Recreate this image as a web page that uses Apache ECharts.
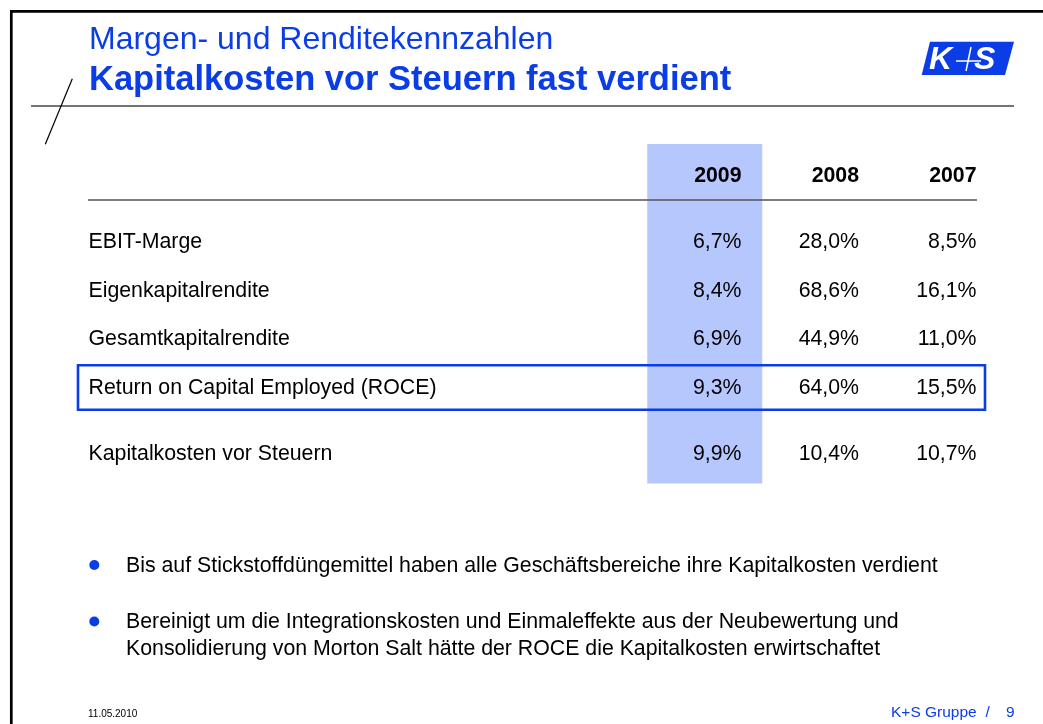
<!DOCTYPE html>
<html>
<head>
<meta charset="utf-8">
<style>html,body{margin:0;padding:0;background:#fff}#main{width:1043px;height:724px}</style>
<script src="https://cdn.jsdelivr.net/npm/echarts@6/dist/echarts.min.js"></script>
</head>
<body>
<div id="main"></div>
<script>
// Kennzahlen (in %)
let years = ['2009', '2008', '2007'];
let highlightYear = '2009';
let ratioNames = ['EBIT-Marge', 'Eigenkapitalrendite', 'Gesamtkapitalrendite', 'Return on Capital Employed (ROCE)'];
let ratio2009 = [6.7, 8.4, 6.9, 9.3];
let ratio2008 = [28.0, 68.6, 44.9, 64.0];
let ratio2007 = [8.5, 16.1, 11.0, 15.5];
let costName = 'Kapitalkosten vor Steuern';
let costValues = [9.9, 10.4, 10.7];
let boxedRow = 'Return on Capital Employed (ROCE)';

let blue = '#0a3de6';
let font = '"Liberation Sans", Arial, sans-serif';
let fs = 21.3;

function pct(v) {
    return v.toFixed(1).replace('.', ',') + '%';
}

let ratioByYear = [ratio2009, ratio2008, ratio2007];
let ratioData = [];
for (let i = 0; i < ratioNames.length; i++) {
    for (let j = 0; j < years.length; j++) {
        ratioData.push([years[j], ratioNames[i], ratioByYear[j][i]]);
    }
}
let costData = years.map(function (y, j) {
    return [y, costName, costValues[j]];
});
let headerData = years.map(function (y) {
    return [y, 'Jahr', 0];
});

let colLeft = 646, colWidth = 352.5;

function xCat(gridIndex) {
    return {type: 'category', gridIndex: gridIndex, data: years, show: false};
}
function rowAxis(gridIndex, names, showLabel) {
    return {
        type: 'category', gridIndex: gridIndex, data: names, inverse: true,
        axisLine: {show: false}, axisTick: {show: false}, splitLine: {show: false},
        axisLabel: {
            show: showLabel, align: 'left', margin: colLeft - 88.5,
            fontSize: fs, color: '#000', fontFamily: font
        }
    };
}
// Tabellenzellen: Text rechtsbündig in der Jahresspalte
function cellSeries(xi, data, bold) {
    return {
        type: 'custom', xAxisIndex: xi, yAxisIndex: xi, data: data, silent: true, z: 5,
        encode: {x: 0, y: 1},
        renderItem: function (params, api) {
            let p = api.coord([api.value(0), api.value(1)]);
            let d = data[params.dataIndex];
            return {
                type: 'text',
                x: p[0] + 36.8, y: p[1],
                style: {
                    text: bold ? d[0] : pct(d[2]),
                    fill: '#000', align: 'right', verticalAlign: 'middle',
                    fontSize: fs, fontWeight: bold ? 'bold' : 'normal', fontFamily: font
                }
            };
        }
    };
}

let chart = echarts.init(document.getElementById('main'));
let option = {
    backgroundColor: '#fff',
    animation: false,
    grid: [
        {left: colLeft, width: colWidth, top: 144, height: 339.5},
        {left: colLeft, width: colWidth, top: 151.5, height: 49},
        {left: colLeft, width: colWidth, top: 218, height: 194},
        {left: colLeft, width: colWidth, top: 430, height: 48}
    ],
    xAxis: [xCat(0), xCat(1), xCat(2), xCat(3)],
    yAxis: [
        {type: 'value', gridIndex: 0, min: 0, max: 1, show: false},
        rowAxis(1, ['Jahr'], false),
        rowAxis(2, ratioNames, true),
        rowAxis(3, [costName], true)
    ],
    series: [
        {
            type: 'bar', xAxisIndex: 0, yAxisIndex: 0, silent: true, z: 1,
            barWidth: 115,
            data: years.map(function (y) { return y === highlightYear ? 1 : '-'; }),
            itemStyle: {color: '#b6c7fe'}
        },
        cellSeries(1, headerData, true),
        cellSeries(2, ratioData, false),
        cellSeries(3, costData, false)
    ]
};
chart.setOption(option);

// Rahmen um die ROCE-Zeile, aus der Achse berechnet
let boxY = chart.convertToPixel({gridIndex: 2}, [years[0], boxedRow])[1];

let bulletLines = [
    ['Bis auf Stickstoffdüngemittel haben alle Geschäftsbereiche ihre Kapitalkosten verdient'],
    ['Bereinigt um die Integrationskosten und Einmaleffekte aus der Neubewertung und',
        'Konsolidierung von Morton Salt hätte der ROCE die Kapitalkosten erwirtschaftet']
];
let bulletY = [566, 622.5];

let g = [
    // Folienrahmen
    {type: 'polyline', shape: {points: [[11.3, 724], [11.3, 11.3], [1043, 11.3]]}, style: {stroke: '#000', lineWidth: 2.7, fill: null}, z: 100},
    // Titel
    {type: 'text', style: {x: 89, y: 40.5, text: 'Margen- und Renditekennzahlen', fill: blue, fontSize: 32, fontFamily: font, verticalAlign: 'middle'}, z: 100},
    {type: 'text', style: {x: 89, y: 80, text: 'Kapitalkosten vor Steuern fast verdient', fill: blue, fontSize: 34.5, fontWeight: 'bold', fontFamily: font, verticalAlign: 'middle'}, z: 100},
    {type: 'line', shape: {x1: 31, y1: 106, x2: 1014, y2: 106}, style: {stroke: '#444', lineWidth: 1.5}, z: 100},
    {type: 'line', shape: {x1: 72.3, y1: 78.7, x2: 45.3, y2: 144.3}, style: {stroke: '#000', lineWidth: 1.2}, z: 100},
    // Logo
    {type: 'polygon', shape: {points: [[930, 41.7], [1014, 41.7], [1005, 75], [921.7, 75]]}, style: {fill: blue}, z: 100},
    {type: 'text', style: {x: 929, y: 60, text: 'K', fill: '#fff', fontSize: 32, fontWeight: 'bold', fontStyle: 'italic', fontFamily: font, verticalAlign: 'middle'}, z: 101},
    {type: 'text', style: {x: 974, y: 60, text: 'S', fill: '#fff', fontSize: 32, fontWeight: 'bold', fontStyle: 'italic', fontFamily: font, verticalAlign: 'middle'}, z: 101},
    {type: 'line', shape: {x1: 956, y1: 61, x2: 981, y2: 61}, style: {stroke: '#fff', lineWidth: 1.5}, z: 101},
    {type: 'line', shape: {x1: 971, y1: 47, x2: 966, y2: 71}, style: {stroke: '#fff', lineWidth: 1.5}, z: 101},
    // Tabellenkopf-Linie
    {type: 'line', shape: {x1: 88, y1: 200, x2: 977, y2: 200}, style: {stroke: '#555', lineWidth: 1.5}, z: 100},
    // ROCE-Rahmen
    {type: 'rect', shape: {x: 78, y: boxY - 22.5, width: 907, height: 44.5}, style: {stroke: blue, lineWidth: 2.6, fill: null}, z: 100},
    // Fußzeile
    {type: 'text', style: {x: 88, y: 714, text: '11.05.2010', fill: '#000', fontSize: 10, fontFamily: font, verticalAlign: 'middle'}, z: 100},
    {type: 'text', style: {x: 891, y: 712.5, text: 'K+S Gruppe', fill: blue, fontSize: 15.5, fontFamily: font, verticalAlign: 'middle'}, z: 100},
    {type: 'text', style: {x: 985.5, y: 712.5, text: '/', fill: blue, fontSize: 15.5, fontFamily: font, verticalAlign: 'middle'}, z: 100},
    {type: 'text', style: {x: 1006, y: 712.5, text: '9', fill: blue, fontSize: 15.5, fontFamily: font, verticalAlign: 'middle'}, z: 100}
];
bulletLines.forEach(function (lines, i) {
    g.push({type: 'circle', shape: {cx: 94.3, cy: bulletY[i] - 1, r: 5}, style: {fill: blue}, z: 100});
    lines.forEach(function (t, k) {
        g.push({type: 'text', style: {x: 126, y: bulletY[i] + k * 27, text: t, fill: '#000', fontSize: fs, fontFamily: font, verticalAlign: 'middle'}, z: 100});
    });
});
chart.setOption({graphic: g});
</script>
</body>
</html>
